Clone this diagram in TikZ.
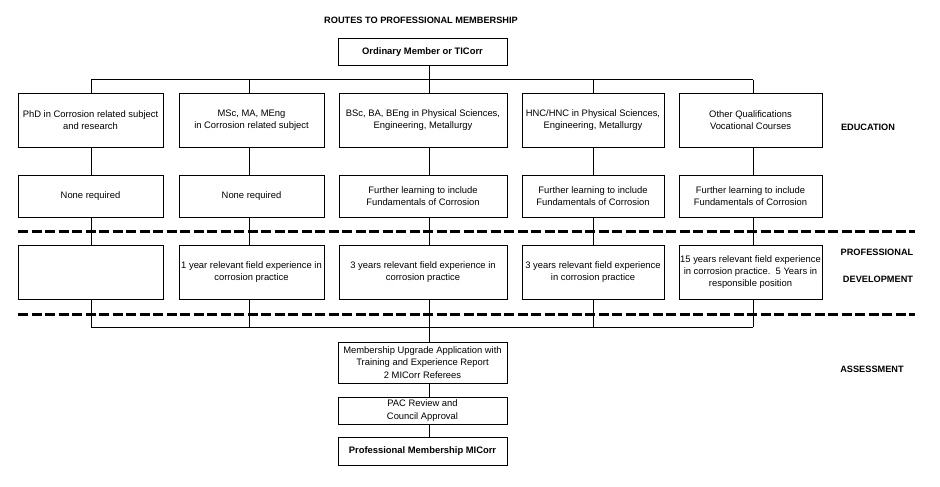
\documentclass[tikz,border=0pt]{standalone}
\usepackage{fontspec}
\setmainfont{Liberation Sans}
\begin{document}
\begin{tikzpicture}[x=1pt,y=-1pt,
  box/.style={draw, line width=1pt, align=center, inner sep=0pt, font=\fontsize{9.4}{12.4}\selectfont},
  bbox/.style={box, font=\fontsize{9.4}{12.4}\selectfont\bfseries},
  conn/.style={line width=1pt},
  sep/.style={line width=3pt, dash pattern=on 10pt off 3.5pt},
  lab/.style={font=\fontsize{9.2}{11}\selectfont\bfseries, inner sep=0pt}]
\useasboundingbox (0,0) rectangle (940,487);

% guide coordinates
\coordinate (bt) at (0,80);
\coordinate (bb) at (0,327);
\coordinate (c1) at (91,0);
\coordinate (c2) at (249,0);
\coordinate (c3) at (429,0);
\coordinate (c4) at (593,0);
\coordinate (c5) at (753,0);
\coordinate (d1a) at (18,231);
\coordinate (d1b) at (915,231);
\coordinate (d2a) at (18,314);
\coordinate (d2b) at (915,314);

% labels
\node[lab] (title) at (421,20) {ROUTES TO PROFESSIONAL MEMBERSHIP};
\node[lab] (edu) at (868,127) {EDUCATION};
\node[lab] (prof) at (877,252) {PROFESSIONAL};
\node[lab] (dev) at (878,279) {DEVELOPMENT};
\node[lab] (ass) at (872,369) {ASSESSMENT};

% top box
\node[bbox, minimum width=169pt, minimum height=27pt] (ord) at (422.5,52.5) {Ordinary Member or TICorr};

% education row
\node[box, minimum width=145pt, minimum height=54pt] (e1) at (90.5,120) {PhD in Corrosion related subject\\and research};
\node[box, minimum width=145pt, minimum height=54pt] (e2) at (251.5,120) {MSc, MA, MEng\\in Corrosion related subject};
\node[box, minimum width=168pt, minimum height=54pt] (e3) at (423,120) {BSc, BA, BEng in Physical Sciences,\\Engineering, Metallurgy};
\node[box, minimum width=142pt, minimum height=54pt] (e4) at (593,120) {HNC/HNC in Physical Sciences,\\Engineering, Metallurgy};
\node[box, minimum width=143pt, minimum height=54pt] (e5) at (750.5,120) {Other Qualifications\\Vocational Courses};

% further learning row
\node[box, minimum width=145pt, minimum height=42pt] (f1) at (90.5,196) {None required};
\node[box, minimum width=145pt, minimum height=42pt] (f2) at (251.5,196) {None required};
\node[box, minimum width=168pt, minimum height=42pt] (f3) at (423,196) {Further learning to include\\Fundamentals of Corrosion};
\node[box, minimum width=142pt, minimum height=42pt] (f4) at (593,196) {Further learning to include\\Fundamentals of Corrosion};
\node[box, minimum width=143pt, minimum height=42pt] (f5) at (750.5,196) {Further learning to include\\Fundamentals of Corrosion};

% professional development row
\node[box, minimum width=145pt, minimum height=54pt] (p1) at (90.5,272) {};
\node[box, minimum width=145pt, minimum height=54pt] (p2) at (251.5,272) {1 year relevant field experience in\\corrosion practice};
\node[box, minimum width=168pt, minimum height=54pt] (p3) at (423,272) {3 years relevant field experience in\\corrosion practice};
\node[box, minimum width=142pt, minimum height=54pt] (p4) at (593,272) {3 years relevant field experience\\in corrosion practice};
\node[box, minimum width=143pt, minimum height=54pt] (p5) at (750.5,272) {15 years relevant field experience\\in corrosion practice.\ \ 5 Years in\\responsible position};

% assessment
\node[box, minimum width=169pt, minimum height=41pt] (m) at (422.5,362.5) {Membership Upgrade Application with\\Training and Experience Report\\2 MICorr Referees};
\node[box, minimum width=169pt, minimum height=27pt] (pac) at (422.5,410.5) {PAC Review and\\Council Approval};
\node[bbox, minimum width=169pt, minimum height=28pt] (pm) at (422.5,451) {Professional Membership MICorr};

% connectors
\draw[conn] (c1 |- bt) -- (c5 |- bt);
\draw[conn] (ord.south -| c3) -- (c3 |- bt);
\foreach \i in {1,...,5}{
  \draw[conn] (c\i |- bt) -- (e\i.north -| c\i);
  \draw[conn] (e\i.south -| c\i) -- (f\i.north -| c\i);
  \draw[conn] (f\i.south -| c\i) -- (p\i.north -| c\i);
  \draw[conn] (p\i.south -| c\i) -- (c\i |- bb);
}
\draw[conn] (c1 |- bb) -- (c5 |- bb);
\draw[conn] (c3 |- bb) -- (m.north -| c3);
\draw[conn] (m.south -| c3) -- (pac.north -| c3);
\draw[conn] (pac.south -| c3) -- (pm.north -| c3);

% separators
\draw[sep] (d1a) -- (d1b);
\draw[sep] (d2a) -- (d2b);
\end{tikzpicture}
\end{document}
